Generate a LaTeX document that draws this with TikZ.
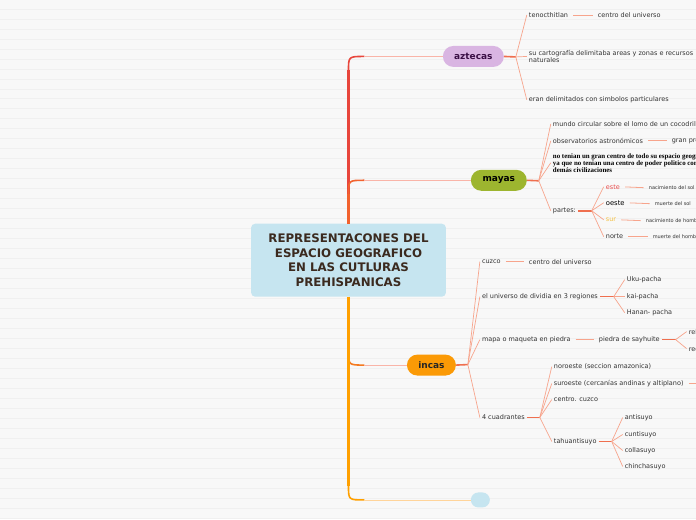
\documentclass[tikz,border=0pt]{standalone}
\usepackage{fontspec}
\setmainfont{DejaVu Sans}
\newfontfamily\notefont{Liberation Serif}
\usepackage{tikz}
\usetikzlibrary{calc}
\definecolor{bgC}{HTML}{F8F8F8}
\definecolor{stripeC}{HTML}{F0F0F0}
\definecolor{boxC}{HTML}{C6E5F0}
\definecolor{titleC}{HTML}{3B2A1F}
\definecolor{aztC}{HTML}{D9B5E2}
\definecolor{aztT}{HTML}{3A0F45}
\definecolor{mayC}{HTML}{9DB52F}
\definecolor{incC}{HTML}{FB9A06}
\definecolor{trRed}{HTML}{E8463C}
\definecolor{trMay}{HTML}{F2622E}
\definecolor{trInc}{HTML}{F47A20}
\definecolor{trEmp}{HTML}{FFA000}
\definecolor{brRed}{HTML}{F9B4A8}
\definecolor{brEmp}{HTML}{FFD49A}
\definecolor{fanC}{HTML}{F7A48C}
\definecolor{stubC}{HTML}{EF6F4F}
\definecolor{txtC}{HTML}{333333}
\definecolor{esteC}{HTML}{E84C4C}
\definecolor{surC}{HTML}{F4C142}
\tikzstyle{tS}=[rounded corners=10.5pt,minimum height=21pt,inner sep=0pt,font=\fontsize{9}{10}\selectfont\bfseries]
\tikzstyle{lS}=[anchor=west,inner sep=2pt,text=txtC,font=\fontsize{6.5}{7.8}\selectfont,align=left]
\tikzstyle{sS}=[lS,font=\fontsize{5}{6}\selectfont]
\tikzstyle{eFan}=[draw=fanC,line width=0.7pt]
\tikzstyle{eStub}=[draw=stubC,line width=1.6pt]
\tikzstyle{eLink}=[draw=fanC,line width=0.8pt,shorten <=3pt,shorten >=3pt]
% trunk from the title box to a topic: start, topic, offset, trunk colour, branch colour
\newcommand{\limb}[5]{%
  \draw[line width=3.6pt,#4] (#1) -- ($(#1 |- #2.west)+(0,#3)$);
  \draw[line width=1.6pt,#4] ($(#1 |- #2.west)+(0,#3)$) .. controls (#1 |- #2.west) .. ($(#1 |- #2.west)+(16,0)$);
  \draw[line width=0.8pt,#5] ($(#1 |- #2.west)+(16,0)$) -- (#2.west);}
\begin{document}
\begin{tikzpicture}[x=1pt,y=-1pt]
                % background
                \fill[bgC] (0,0) rectangle (696,520);
                \foreach \y in {9,19,...,519} \draw[stripeC,line width=0.8pt] (0,\y) -- (696,\y);
                \useasboundingbox (0,0) rectangle (696,520);

                \draw (348.5,260.5) node[fill=boxC,rounded corners=4pt,minimum width=195pt,minimum height=73pt,align=center,text=titleC,font=\fontsize{11.8}{14.5}\selectfont\bfseries] (core) {REPRESENTACONES DEL\\ESPACIO GEOGRAFICO\\EN LAS CUTLURAS\\PREHISPANICAS};

                \draw (473.5,56.5) node[tS,fill=aztC,text=aztT,minimum width=61pt] (azt) {aztecas};
                \draw (499,180.5) node[tS,fill=mayC,text=black,minimum width=56pt] (may) {mayas};
                \draw (431.5,365.5) node[tS,fill=incC,text=black!85,minimum width=49pt] (inc) {incas};
                \draw (480.5,500.5) node[tS,fill=boxC,minimum width=19pt,minimum height=15pt,rounded corners=7.5pt] (emp) {};

                \limb{core.north}{azt}{14}{trRed}{brRed}
                \limb{core.north}{may}{14}{trMay}{brRed}
                \limb{core.south}{inc}{-14}{trInc}{brRed}
                \limb{core.south}{emp}{-14}{trEmp}{brEmp}

                % aztecas
                \coordinate (fa) at (516,57);
                \draw (527,15) node[lS] (a1) {tenocthitlan};
                \draw (596,15) node[lS] (a1b) {centro del universo};
                \draw (527,56.5) node[lS] (a2) {su cartografía delimitaba areas y zonas e recursos\\naturales};
                \draw (527,100) node[lS] (a3) {eran delimitados con simbolos particulares};
                \path
                    (azt.east) edge[eStub] (fa)
                    (fa) edge[eFan] (a1.west)
                    (fa) edge[eFan] (a2.west)
                    (fa) edge[eFan] (a3.west)
                    (a1.east) edge[eLink] (a1b.west)
                ;

                % mayas
                \coordinate (fm) at (539,181);
                \draw (551,124) node[lS] (m1) {mundo circular sobre el lomo de un cocodrilo};
                \draw (551,141) node[lS] (m2) {observatorios astronómicos};
                \draw (670,141) node[lS] (m2b) {gran precisión};
                \draw (551,163) node[lS,text=black,font=\notefont\bfseries\fontsize{6.9}{7.2}\selectfont] (m3) {no tenian un gran centro de todo su espacio geografico\\ya que no tenian una centro de poder politico como\\demás civilizaciones};
                \draw (551,211) node[lS] (m4) {partes:};
                \coordinate (fp) at (592,211);
                \draw (604,187) node[lS,text=esteC] (p1) {este};
                \draw (647,188) node[sS] (p1b) {nacimiento del sol};
                \draw (604,203) node[lS,text=black,font=\fontsize{6.8}{8}\selectfont] (p2) {oeste};
                \draw (653,204) node[sS] (p2b) {muerte del sol};
                \draw (604,220) node[lS,text=surC] (p3) {sur};
                \draw (644,221) node[sS] (p3b) {nacimiento de hombre};
                \draw (604,237) node[lS] (p4) {norte};
                \draw (651,237) node[sS] (p4b) {muerte del hombre};
                \path
                    (may.east) edge[eStub] (fm)
                    (fm) edge[eFan] (m1.west)
                    (fm) edge[eFan] (m2.west)
                    (fm) edge[eFan] (m3.west)
                    (fm) edge[eFan] (m4.west)
                    (m2.east) edge[eLink] (m2b.west)
                    (m4.east) edge[eStub] (fp)
                    (fp) edge[eFan] (p1.west)
                    (fp) edge[eFan] (p2.west)
                    (fp) edge[eFan] (p3.west)
                    (fp) edge[eFan] (p4.west)
                    (p1.east) edge[eLink] (p1b.west)
                    (p2.east) edge[eLink] (p2b.west)
                    (p3.east) edge[eLink] (p3b.west)
                    (p4.east) edge[eLink] (p4b.west)
                ;

                % incas
                \coordinate (fi) at (468,365);
                \draw (480,262) node[lS] (i1) {cuzco};
                \draw (527,262) node[lS] (i1b) {centro del universo};
                \draw (480,297) node[lS] (i2) {el universo de dividia en 3 regiones};
                \coordinate (fr) at (614,297);
                \draw (625,280) node[lS] (r1) {Uku-pacha};
                \draw (625,297) node[lS] (r2) {kai-pacha};
                \draw (625,313) node[lS] (r3) {Hanan- pacha};
                \draw (480,340) node[lS] (i3) {mapa o maqueta en piedra};
                \draw (597,340) node[lS] (i3b) {piedra de sayhuite};
                \coordinate (fs) at (676,340);
                \draw (687,332) node[lS] (s1) {relieves};
                \draw (687,349) node[lS] (s2) {recintos};
                \draw (480,418) node[lS] (i4) {4 cuadrantes};
                \coordinate (fc) at (540,418);
                \draw (552,367) node[lS] (c1) {noroeste (seccion amazonica)};
                \draw (552,384) node[lS] (c2) {suroeste (cercanías andinas y altiplano)};
                \coordinate (c2b) at (702,384);
                \draw (552,400) node[lS] (c3) {centro. cuzco};
                \draw (552,442) node[lS] (c4) {tahuantisuyo};
                \coordinate (ft) at (612,442);
                \draw (623,418) node[lS] (t1) {antisuyo};
                \draw (623,435) node[lS] (t2) {cuntisuyo};
                \draw (623,451) node[lS] (t3) {collasuyo};
                \draw (623,467) node[lS] (t4) {chinchasuyo};
                \path
                    (inc.east) edge[eStub] (fi)
                    (fi) edge[eFan] (i1.west)
                    (fi) edge[eFan] (i2.west)
                    (fi) edge[eFan] (i3.west)
                    (fi) edge[eFan] (i4.west)
                    (i1.east) edge[eLink] (i1b.west)
                    (i2.east) edge[eStub] (fr)
                    (fr) edge[eFan] (r1.west)
                    (fr) edge[eFan] (r2.west)
                    (fr) edge[eFan] (r3.west)
                    (i3.east) edge[eLink] (i3b.west)
                    (i3b.east) edge[eStub] (fs)
                    (fs) edge[eFan] (s1.west)
                    (fs) edge[eFan] (s2.west)
                    (i4.east) edge[eStub] (fc)
                    (fc) edge[eFan] (c1.west)
                    (fc) edge[eFan] (c2.west)
                    (fc) edge[eFan] (c3.west)
                    (fc) edge[eFan] (c4.west)
                    (c2.east) edge[eLink] (c2b)
                    (c4.east) edge[eStub] (ft)
                    (ft) edge[eFan] (t1.west)
                    (ft) edge[eFan] (t2.west)
                    (ft) edge[eFan] (t3.west)
                    (ft) edge[eFan] (t4.west)
                ;
        \end{tikzpicture}
\end{document}
